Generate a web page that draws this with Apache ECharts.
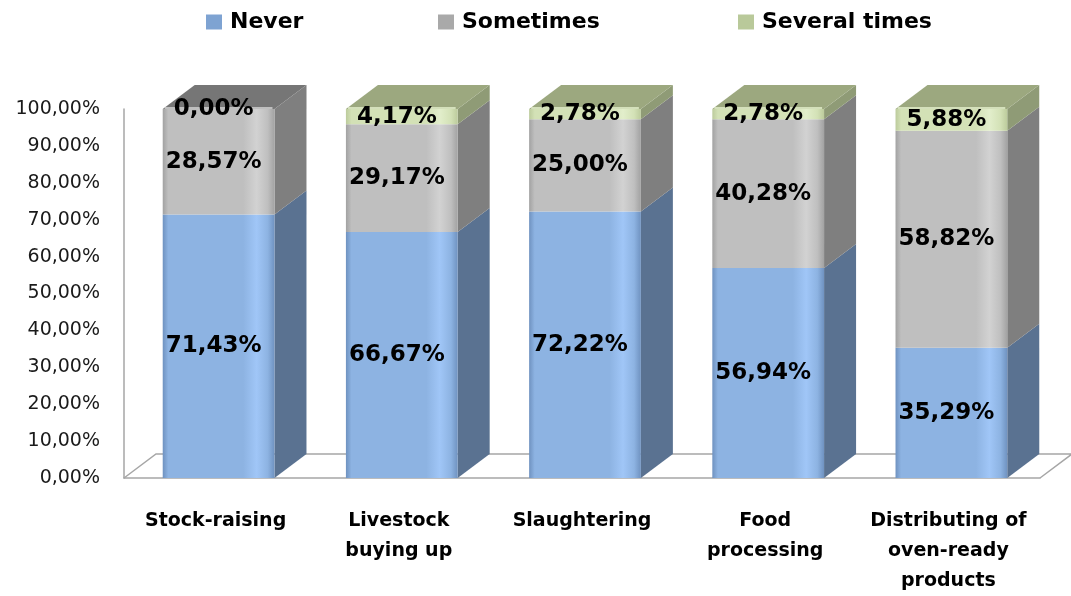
<!DOCTYPE html>
<html>
<head>
<meta charset="utf-8">
<script src="https://cdn.jsdelivr.net/npm/echarts@6/dist/echarts.min.js"></script>
<style>
  html, body { margin: 0; padding: 0; background: #fff; }
  #chart { width: 1071px; height: 596px; }
</style>
</head>
<body>
<div id="chart"></div>
<script>
// ---- data ----
const categories = ['Stock-raising', 'Livestock\nbuying up', 'Slaughtering', 'Food\nprocessing', 'Distributing of\noven-ready\nproducts'];
const seriesNames = ['Never', 'Sometimes', 'Several times'];
const never = [71.43, 66.67, 72.22, 56.94, 35.29];
const sometimes = [28.57, 29.17, 25.00, 40.28, 58.82];
const severalTimes = [0.00, 4.17, 2.78, 2.78, 5.88];
const yTicks = [0, 10, 20, 30, 40, 50, 60, 70, 80, 90, 100];

// ---- styling ----
const FONT = 'DejaVu Sans';
const DX = 32, DY = -24;           // 3D depth offset
const BAR_RATIO = 0.61;
const palette = [
  { base: '#8DB3E2', dark: '#6F92C0', light: '#A0C6F7', side: '#5A7291', top: '#6F8DB5', legend: '#7EA3D2' },
  { base: '#BFBFBF', dark: '#A2A2A2', light: '#D2D2D2', side: '#7F7F7F', top: '#767676', legend: '#A9A9A9' },
  { base: '#D3E1B6', dark: '#BCCB9C', light: '#E2EECB', side: '#8F9B76', top: '#9CA87F', legend: '#B9C99A' }
];
const allValues = [never, sometimes, severalTimes];

function fmt(v) { return v.toFixed(2).replace('.', ',') + '%'; }

// topmost non-zero series per category
const topIndex = categories.map((_, ci) => {
  let t = 0;
  allValues.forEach((arr, si) => { if (arr[ci] > 0) t = si; });
  return t;
});

function makeBarSeries(si) {
  const vals = allValues[si];
  const data = vals.map((v, ci) => {
    let base = 0;
    for (let k = 0; k < si; k++) base += allValues[k][ci];
    return [ci, v, base];
  });
  const col = palette[si];
  return {
    name: seriesNames[si],
    type: 'custom',
    z: 2,
    itemStyle: { color: col.legend },
    data: data,
    encode: { x: 0, y: 1 },
    renderItem: function (params, api) {
      const ci = api.value(0), v = api.value(1), b = api.value(2);
      const catW = api.size([1, 0])[0];
      const pb = api.coord([ci, b]);
      const pt = api.coord([ci, b + v]);
      const fw = catW * BAR_RATIO;
      const x0 = pb[0] - fw / 2 + 3, x1 = x0 + fw;
      const yb = pb[1], yt = pt[1];
      const children = [];
      if (v > 0) {
        children.push({
          type: 'polygon',
          shape: { points: [[x1, yt], [x1 + DX, yt + DY], [x1 + DX, yb + DY], [x1, yb]] },
          style: { fill: col.side }
        });
        children.push({
          type: 'rect',
          shape: { x: x0, y: yt, width: fw, height: yb - yt },
          style: {
            fill: new echarts.graphic.LinearGradient(0, 0, 1, 0, [
              { offset: 0, color: col.dark },
              { offset: 0.05, color: col.base },
              { offset: 0.72, color: col.base },
              { offset: 0.84, color: col.light },
              { offset: 0.94, color: col.base },
              { offset: 1, color: col.dark }
            ])
          }
        });
        if (topIndex[ci] === si) {
          children.push({
            type: 'polygon',
            shape: { points: [[x0, yt], [x0 + DX, yt + DY], [x1 + DX, yt + DY], [x1, yt]] },
            style: { fill: col.top }
          });
          children.push({
            type: 'line',
            shape: { x1: x0 + 2, y1: yt - 1, x2: x1 - 2, y2: yt - 1 },
            style: { stroke: col.light, lineWidth: 2, opacity: 0.8 }
          });
        }
      }
      children.push({
        type: 'text',
        z2: 10,
        style: {
          text: fmt(v),
          x: pb[0] - 2,
          y: (yb + yt) / 2,
          align: 'center',
          verticalAlign: 'middle',
          fontFamily: FONT,
          fontWeight: 'bold',
          fontSize: 23,
          fill: '#000'
        }
      });
      return { type: 'group', children: children };
    }
  };
}

const floorSeries = {
  type: 'custom',
  name: 'floor',
  z: 1,
  silent: true,
  data: [[0, 0]],
  renderItem: function (params, api) {
    const cs = params.coordSys;
    const xl = cs.x, xr = cs.x + cs.width, yb = cs.y + cs.height;
    return {
      type: 'polyline',
      shape: { points: [[xl, yb], [xl + DX, yb + DY], [xr + DX, yb + DY], [xr, yb]] },
      style: { stroke: '#A6A6A6', lineWidth: 1.5, fill: null }
    };
  }
};

const chart = echarts.init(document.getElementById('chart'), null, { renderer: 'canvas' });
const legendCommon = {
  top: 6,
  itemWidth: 16,
  itemHeight: 15,
  icon: 'rect',
  textStyle: { fontFamily: FONT, fontWeight: 'bold', fontSize: 22, color: '#000', padding: [0, 0, 0, 3] }
};
chart.setOption({
  animation: false,
  backgroundColor: '#fff',
  legend: [
    Object.assign({ data: [seriesNames[0]], left: 201 }, legendCommon),
    Object.assign({ data: [seriesNames[1]], left: 433 }, legendCommon),
    Object.assign({ data: [seriesNames[2]], left: 733 }, legendCommon)
  ],
  grid: { left: 124, right: 31, top: 109, bottom: 117 },
  xAxis: {
    type: 'category',
    data: categories,
    axisLine: { show: true, lineStyle: { color: '#A6A6A6', width: 1.5 } },
    axisTick: { show: false },
    axisLabel: {
      interval: 0,
      margin: 28,
      fontFamily: FONT,
      fontWeight: 'bold',
      fontSize: 19,
      lineHeight: 30,
      color: '#000'
    }
  },
  yAxis: {
    type: 'value',
    min: yTicks[0],
    max: yTicks[yTicks.length - 1],
    interval: yTicks[1] - yTicks[0],
    axisLine: { show: true, lineStyle: { color: '#A6A6A6', width: 1.5 } },
    axisTick: { show: false },
    splitLine: { show: false },
    axisLabel: {
      margin: 24,
      padding: [5, 0, 0, 0],
      fontFamily: FONT,
      fontSize: 19,
      color: '#1A1A1A',
      formatter: function (v) { return fmt(v); }
    }
  },
  series: [floorSeries, makeBarSeries(0), makeBarSeries(1), makeBarSeries(2)]
});
</script>
</body>
</html>
